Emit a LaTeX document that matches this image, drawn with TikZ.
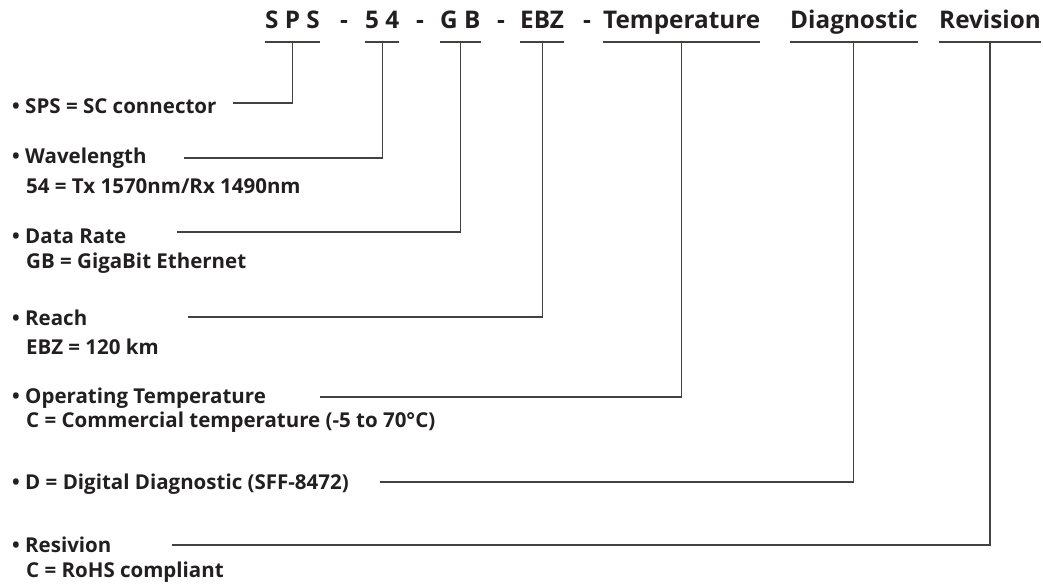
\documentclass[tikz,border=0pt]{standalone}
\usepackage{fontspec}
\setmainfont{Open Sans}
\usetikzlibrary{positioning}
\definecolor{ink}{RGB}{35,31,32}

\begin{document}
\begin{tikzpicture}[x=1pt, y=-1pt,
    part/.style={inner sep=0pt, anchor=base west, text=ink,
      font=\fontsize{24.3}{28}\selectfont\bfseries},
    lbl/.style={inner sep=0pt, anchor=base west, text=ink,
      font=\fontsize{20.5}{24}\selectfont\bfseries},
    lead/.style={draw=ink!85, line width=1.1pt}]
  \useasboundingbox (0,0) rectangle (1043,584);

  % Part number
  \node[part] (tSPS) at (265,28) {S P S};
  \node[part] (dash1) at (340,28) {-};
  \node[part] (t54) at (365,28) {5 4};
  \node[part] (dash2) at (416,28) {-};
  \node[part] (tGB) at (440,28) {G B};
  \node[part] (dash3) at (497,28) {-};
  \node[part] (tEBZ) at (520,28) {EBZ};
  \node[part] (dash4) at (583,28) {-};
  \node[part] (tTemp) at (603,28) {Temperature};
  \node[part] (tDiag) at (790,28) {Diagnostic};
  \node[part] (tRev) at (939,28) {Revision};

  % Underlines
  \draw[lead] ([yshift=-14pt]tSPS.base west) -- ([yshift=-14pt]tSPS.base east);
  \draw[lead] ([yshift=-14pt]t54.base west) -- ([yshift=-14pt]t54.base east);
  \draw[lead] ([yshift=-14pt]tGB.base west) -- ([yshift=-14pt]tGB.base east);
  \draw[lead] ([yshift=-14pt]tEBZ.base west) -- ([yshift=-14pt]tEBZ.base east);
  \draw[lead] ([yshift=-14pt]tTemp.base west) -- ([yshift=-14pt]tTemp.base east);
  \draw[lead] ([yshift=-14pt]tDiag.base west) -- ([yshift=-14pt]tDiag.base east);
  \draw[lead] ([yshift=-14pt]tRev.base west) -- ([yshift=-14pt]tRev.base east);
  \coordinate (uSPS) at ([yshift=-14pt]tSPS.base);
  \coordinate (u54) at ([yshift=-14pt]t54.base);
  \coordinate (uGB) at ([yshift=-14pt]tGB.base);
  \coordinate (uEBZ) at ([yshift=-14pt]tEBZ.base);
  \coordinate (uTemp) at ([yshift=-14pt]tTemp.base);
  \coordinate (uDiag) at ([yshift=-14pt]tDiag.base);
  \coordinate (uRev) at ([yshift=-14pt]tRev.base);

  % Legend
  \node[lbl] (lSPS) at (12,113) {• SPS = SC connector};
  \node[lbl] (lWave) at (12,163) {• Wavelength};
  \node[lbl] (dWave) at (26,193) {54 = Tx 1570nm/Rx 1490nm};
  \node[lbl] (lRate) at (12,243) {• Data Rate};
  \node[lbl] (dRate) at (26,268) {GB = GigaBit Ethernet};
  \node[lbl] (lReach) at (12,325) {• Reach};
  \node[lbl] (dReach) at (26,354) {EBZ = 120 km};
  \node[lbl] (lTemp) at (12,403) {• Operating Temperature};
  \node[lbl] (dTemp) at (26,427) {C = Commercial temperature (-5 to 70°C)};
  \node[lbl] (lDiag) at (12,489) {• D = Digital Diagnostic (SFF-8472)};
  \node[lbl] (lRev) at (12,552) {• Resivion};
  \node[lbl] (dRev) at (26,577) {C = RoHS compliant};

  % Leaders
  \coordinate (sSPS) at (233,103);
  \coordinate (sWave) at (184,158);
  \coordinate (sRate) at (177,232);
  \coordinate (sReach) at (188,317);
  \coordinate (sTemp) at (320,397);
  \coordinate (sDiag) at (380,482);
  \coordinate (sRev) at (172,545);
  \draw[lead] (sSPS) -- (sSPS -| uSPS) -- (uSPS);
  \draw[lead] (sWave) -- (sWave -| u54) -- (u54);
  \draw[lead] (sRate) -- (sRate -| uGB) -- (uGB);
  \draw[lead] (sReach) -- (sReach -| uEBZ) -- (uEBZ);
  \draw[lead] (sTemp) -- (sTemp -| uTemp) -- (uTemp);
  \draw[lead] (sDiag) -- (sDiag -| uDiag) -- (uDiag);
  \draw[lead] (sRev) -- (sRev -| uRev) -- (uRev);
\end{tikzpicture}
\end{document}
